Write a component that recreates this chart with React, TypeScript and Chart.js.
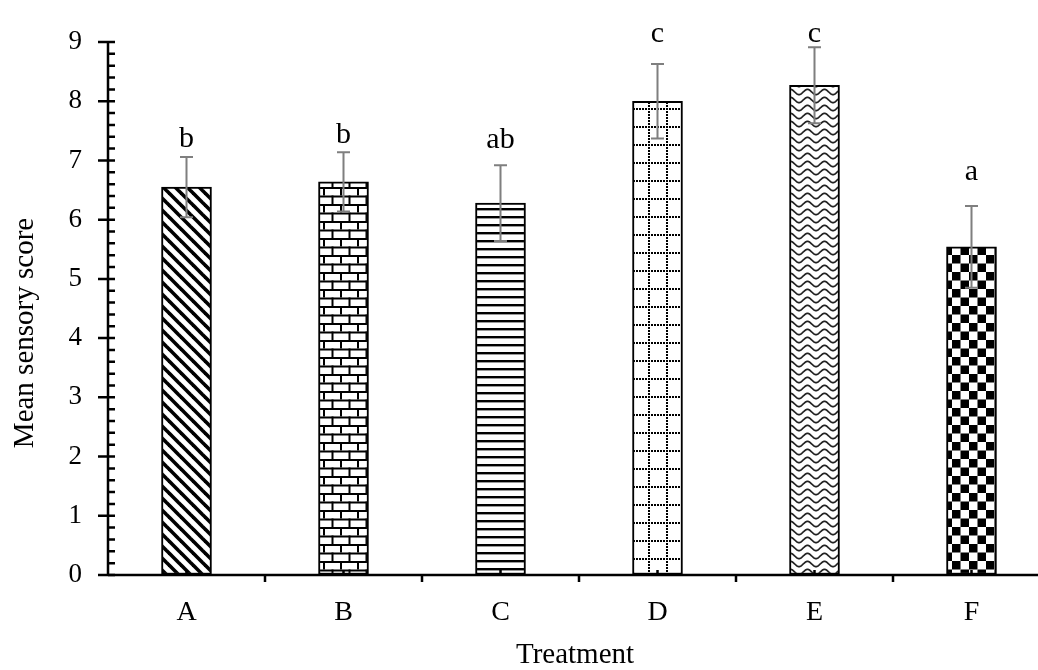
import React, { useEffect, useRef } from "react";
import { Chart, registerables } from "chart.js";

Chart.register(...registerables);

const categories = ["A", "B", "C", "D", "E", "F"];
const means = [6.55, 6.64, 6.28, 8.0, 8.27, 5.54];
const errors = [0.51, 0.5, 0.64, 0.63, 0.64, 0.69];
const letters = ["b", "b", "ab", "c", "c", "a"];
const letterLevels = [7.23, 7.29, 7.21, 9.0, 9.0, 6.67];
const yMin = 0;
const yMax = 9;
const yStep = 1;
const yMinorStep = 0.2;
const yTitle = "Mean sensory score";
const xTitle = "Treatment";

const FONT = "'Liberation Serif', 'Times New Roman', serif";

function tile(w: number, h: number, draw: (c: CanvasRenderingContext2D) => void): CanvasPattern {
  const cv = document.createElement("canvas");
  cv.width = w;
  cv.height = h;
  const c = cv.getContext("2d") as CanvasRenderingContext2D;
  c.fillStyle = "#fff";
  c.fillRect(0, 0, w, h);
  draw(c);
  return c.createPattern(cv, "repeat") as CanvasPattern;
}

function makePatterns(): CanvasPattern[] {
  // A: diagonal stripes "\"
  const pA = tile(12, 12, (c) => {
    c.strokeStyle = "#000";
    c.lineWidth = 3.6;
    for (let k = -1; k <= 1; k++) {
      c.beginPath();
      c.moveTo(k * 12 - 2, -2);
      c.lineTo(k * 12 + 14, 14);
      c.stroke();
    }
  });
  // B: bricks
  const pB = tile(34, 17, (c) => {
    c.fillStyle = "#000";
    c.fillRect(0, 0, 34, 2);
    c.fillRect(0, 8.5, 34, 2);
    c.fillRect(0, 0, 2, 8.5);
    c.fillRect(17, 0, 2, 8.5);
    c.fillRect(8.5, 8.5, 2, 8.5);
    c.fillRect(25.5, 8.5, 2, 8.5);
  });
  // C: horizontal lines
  const pC = tile(8, 8, (c) => {
    c.fillStyle = "#000";
    c.fillRect(0, 0, 8, 2.4);
  });
  // D: dotted grid
  const pD = tile(18, 18, (c) => {
    c.fillStyle = "#000";
    for (let i = 0; i < 18; i += 3) {
      c.fillRect(i, 0, 2, 2);
      c.fillRect(0, i, 2, 2);
    }
  });
  // E: waves
  const pE = tile(17, 8, (c) => {
    c.strokeStyle = "#222";
    c.lineWidth = 1.7;
    c.beginPath();
    for (let x = -1; x <= 18; x += 0.5) {
      const y = 4 + 2.6 * Math.cos((x / 17) * Math.PI * 2);
      if (x === -1) c.moveTo(x, y);
      else c.lineTo(x, y);
    }
    c.stroke();
  });
  // F: checkerboard
  const pF = tile(17, 17, (c) => {
    c.fillStyle = "#000";
    c.fillRect(0, 0, 8.5, 8.5);
    c.fillRect(8.5, 8.5, 8.5, 8.5);
  });
  return [pA, pB, pC, pD, pE, pF];
}

const overlayPlugin = {
  id: "overlay",
  afterDatasetsDraw(chart: any) {
    const ctx: CanvasRenderingContext2D = chart.ctx;
    const xs = chart.scales.x;
    const ys = chart.scales.y;
    const area = chart.chartArea;
    ctx.save();
    // error bars
    ctx.strokeStyle = "#7f7f7f";
    ctx.lineWidth = 2;
    means.forEach((m, i) => {
      const x = xs.getPixelForValue(i);
      const yt = ys.getPixelForValue(m + errors[i]);
      const yb = ys.getPixelForValue(m - errors[i]);
      ctx.beginPath();
      ctx.moveTo(x, yt);
      ctx.lineTo(x, yb);
      ctx.moveTo(x - 6.5, yt);
      ctx.lineTo(x + 6.5, yt);
      ctx.moveTo(x - 6.5, yb);
      ctx.lineTo(x + 6.5, yb);
      ctx.stroke();
    });
    // letters
    ctx.fillStyle = "#000";
    ctx.font = `30px ${FONT}`;
    ctx.textAlign = "center";
    ctx.textBaseline = "alphabetic";
    letters.forEach((t, i) => {
      ctx.fillText(t, xs.getPixelForValue(i), ys.getPixelForValue(letterLevels[i]));
    });
    // axis titles
    ctx.font = `29px ${FONT}`;
    ctx.textBaseline = "middle";
    ctx.fillText(xTitle, (area.left + area.right) / 2 - 4, 655);
    ctx.save();
    ctx.translate(25, 333);
    ctx.rotate(-Math.PI / 2);
    ctx.fillText(yTitle, 0, 0);
    ctx.restore();
    // axes
    ctx.strokeStyle = "#000";
    ctx.lineWidth = 2.5;
    const left = area.left;
    const bottom = area.bottom;
    ctx.beginPath();
    ctx.moveTo(left, ys.getPixelForValue(yMax) - 1);
    ctx.lineTo(left, bottom + 1);
    ctx.moveTo(left, bottom);
    ctx.lineTo(area.right + 5, bottom);
    ctx.stroke();
    // y major ticks
    ctx.beginPath();
    for (let v = yMin; v <= yMax + 1e-9; v += yStep) {
      const y = ys.getPixelForValue(v);
      ctx.moveTo(left - 10, y);
      ctx.lineTo(left + 4, y);
    }
    // y minor ticks
    for (let v = yMin; v <= yMax + 1e-9; v += yMinorStep) {
      const y = ys.getPixelForValue(v);
      ctx.moveTo(left, y);
      ctx.lineTo(left + 7, y);
    }
    ctx.stroke();
    // x ticks
    const n = categories.length;
    const cw = (area.right - area.left) / n;
    ctx.beginPath();
    for (let k = 1; k < n; k++) {
      const x = left + k * cw;
      ctx.moveTo(x, bottom);
      ctx.lineTo(x, bottom + 7);
    }
    for (let i = 0; i < n; i++) {
      const x = xs.getPixelForValue(i);
      ctx.moveTo(x, bottom);
      ctx.lineTo(x, bottom - 5);
    }
    ctx.stroke();
    ctx.restore();
  },
};

export default function App() {
  const ref = useRef<HTMLCanvasElement>(null);
  useEffect(() => {
    if (!ref.current) return;
    const patterns = makePatterns();
    const chart = new Chart(ref.current, {
      type: "bar",
      data: {
        labels: categories,
        datasets: [
          {
            data: means,
            backgroundColor: patterns as any,
            borderColor: "#000",
            borderWidth: 2,
            borderSkipped: false,
            barThickness: 50,
          },
        ],
      },
      options: {
        animation: false,
        responsive: false,
        devicePixelRatio: 1,
        layout: { padding: { top: 42, right: 0, bottom: 0, left: 0 } },
        plugins: { legend: { display: false }, tooltip: { enabled: false } },
        scales: {
          x: {
            grid: { display: true, drawOnChartArea: false, drawTicks: true, tickLength: 8, color: "rgba(0,0,0,0)" },
            border: { display: false },
            ticks: { color: "#000", font: { family: FONT, size: 28 }, padding: 13 },
            title: { display: false, text: xTitle },
            afterFit: (s: any) => {
              s.height = 95;
            },
          },
          y: {
            min: yMin,
            max: yMax,
            grid: { display: true, drawOnChartArea: false, drawTicks: true, tickLength: 10, color: "rgba(0,0,0,0)" },
            border: { display: false },
            ticks: { stepSize: yStep, color: "#000", font: { family: FONT, size: 27 }, padding: 16 },
            title: { display: false, text: yTitle },
            afterFit: (s: any) => {
              s.width = 108;
            },
          },
        },
      },
      plugins: [overlayPlugin],
    });
    return () => chart.destroy();
  }, []);
  return (
    <div style={{ position: "fixed", left: 0, top: 0, width: 1038, height: 670, overflow: "hidden", background: "#fff" }}>
      <canvas ref={ref} width={1050} height={670} style={{ display: "block", width: 1050, height: 670 }} />
    </div>
  );
}
